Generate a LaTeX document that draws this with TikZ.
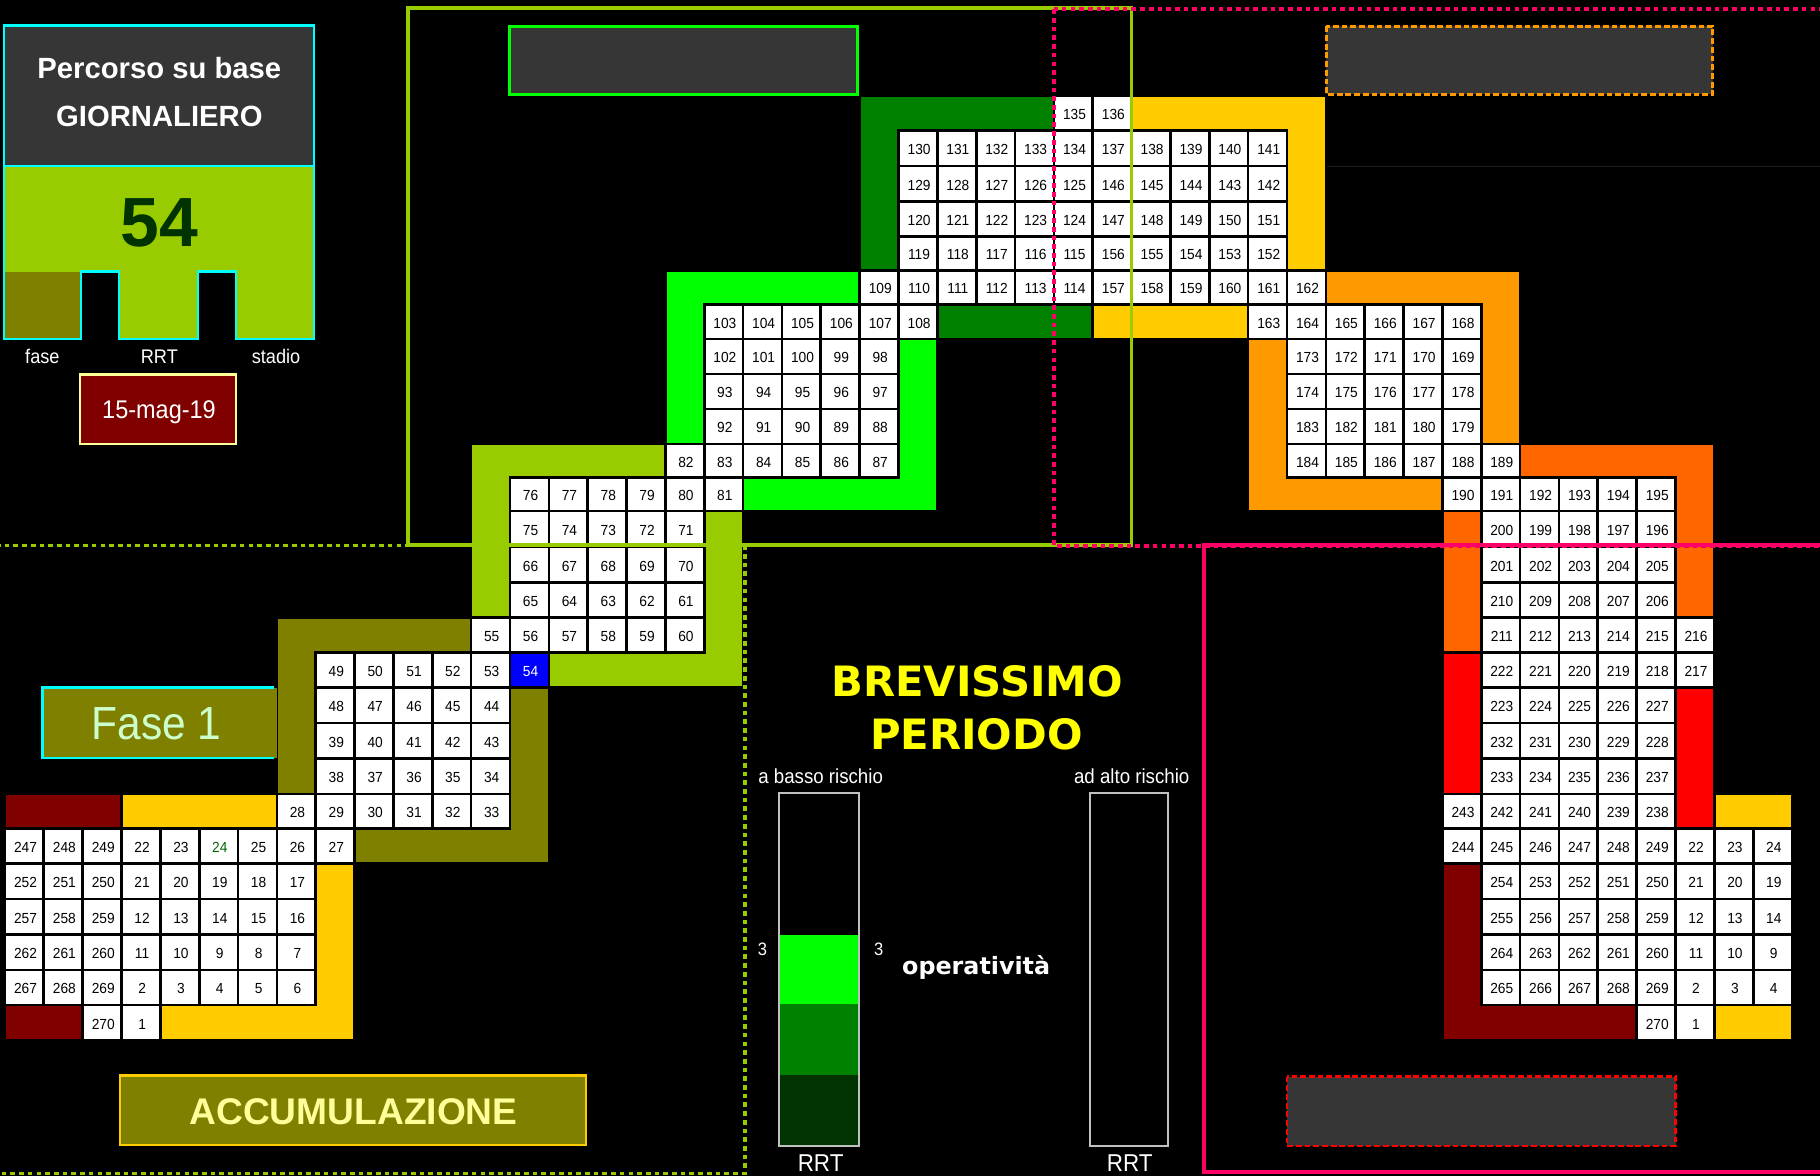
\documentclass[tikz,border=0pt]{standalone}
\usepackage{fontspec}
\setmainfont{Liberation Sans}
\newfontfamily\arial{Liberation Sans}
\newfontfamily\dejavu{DejaVu Sans}
\newfontfamily\cellfont[FakeStretch=0.94]{Liberation Sans}
\newfontfamily\regfont[FakeStretch=0.92]{Liberation Sans}
\newfontfamily\fasefont[FakeStretch=0.915]{Liberation Sans}
\definecolor{ygreen}{HTML}{99CC00}
\definecolor{olivec}{HTML}{808000}
\definecolor{lgreen}{HTML}{00FF00}
\definecolor{dgreen}{HTML}{008000}
\definecolor{vdgreen}{HTML}{003300}
\definecolor{yellowc}{HTML}{FFCC00}
\definecolor{orangec}{HTML}{FF9900}
\definecolor{orred}{HTML}{FF6600}
\definecolor{redc}{HTML}{FF0000}
\definecolor{dred}{HTML}{800000}
\definecolor{pinkc}{HTML}{FF0066}
\definecolor{cyanc}{HTML}{00FFFF}
\definecolor{pyellow}{HTML}{FFFF99}
\definecolor{byellow}{HTML}{FFFF00}
\definecolor{fasetxt}{HTML}{CCFFCC}
\definecolor{boxgray}{HTML}{363636}
\definecolor{bargray}{HTML}{C0C0C0}
\definecolor{gtext}{HTML}{006600}
\definecolor{faint}{HTML}{1C1C1C}
\def\rowB{{82.3,112.6,143.1,173.45,203.6,233.05,262.15,291.95,322.15,352.4,382.4,411.45,440.4,471.1,502,532,562,592.5,623,653.5,684,714,744,774.5,805,835.5,866,896.1}}
\newcommand\band[5]{%
  \pgfmathsetmacro\xa{21+33.47*(#2)-15.6}%
  \pgfmathsetmacro\xb{21+33.47*(#3)+15.6}%
  \pgfmathsetmacro\ya{\rowB[#4]+1.1}%
  \pgfmathsetmacro\yb{\rowB[#5+1]-1.1}%
  \fill[#1] (\xa,\ya) rectangle (\xb,\yb);}
\newcommand\cellx[5]{%
  \pgfmathsetmacro\xa{21+33.47*(#3)-15.6}%
  \pgfmathsetmacro\xb{\xa+31.2}%
  \pgfmathsetmacro\ya{\rowB[#4]+1.1}%
  \pgfmathsetmacro\yb{\rowB[#4+1]-1.1}%
  \pgfmathtruncatemacro\ci{#3}%
  \fill[#1] (\xa,\ya) rectangle (\xb,\yb);
  \node[celltxt,text=#2] (cell-\ci-#4) at ({(\xa+\xb)/2+1},{(\ya+\yb)/2+1.2}) {#5};}
\newcommand\cellrow[3]{%
  \foreach \t [count=\k from 0] in {#3} {\cellx{white}{black}{#2+\k}{#1}{\t}}}
\begin{document}
\begin{tikzpicture}[x=1pt,y=-1pt,
  celltxt/.style={inner sep=0pt,anchor=center,font=\cellfont\fontsize{12.6}{13}\selectfont},
  lbl/.style={inner sep=0pt,anchor=base},
  graybox/.style={fill=boxgray,line width=2.4pt}]
\useasboundingbox (0,0) rectangle (1568,1013);
\clip (0,0) rectangle (1568,1013);
\fill[black] (0,0) rectangle (1568,1013);

% ---------- bands ----------
\band{olivec}{7}{11}{15}{15}
\band{olivec}{7}{7}{15}{19}
\band{olivec}{13}{13}{17}{21}
\band{olivec}{9}{13}{21}{21}
\band{ygreen}{12}{16}{10}{10}
\band{ygreen}{12}{12}{10}{14}
\band{ygreen}{18}{18}{12}{16}
\band{ygreen}{14}{18}{16}{16}
\band{lgreen}{17}{21}{5}{5}
\band{lgreen}{17}{17}{5}{9}
\band{lgreen}{23}{23}{7}{11}
\band{lgreen}{19}{23}{11}{11}
\band{dgreen}{22}{26}{0}{0}
\band{dgreen}{22}{22}{0}{4}
\band{dgreen}{24}{27}{6}{6}
\band{yellowc}{29}{33}{0}{0}
\band{yellowc}{33}{33}{0}{4}
\band{yellowc}{28}{31}{6}{6}
\band{orangec}{34}{38}{5}{5}
\band{orangec}{38}{38}{5}{9}
\band{orangec}{32}{32}{7}{11}
\band{orangec}{32}{36}{11}{11}
\band{orred}{39}{43}{10}{10}
\band{orred}{43}{43}{10}{14}
\band{orred}{37}{37}{12}{15}
\band{redc}{37}{37}{16}{19}
\band{redc}{43}{43}{17}{20}
\band{yellowc}{44}{45}{20}{20}
\band{yellowc}{44}{45}{26}{26}
\band{dred}{37}{37}{22}{26}
\band{dred}{37}{41}{26}{26}
\band{dred}{0}{2}{20}{20}
\band{dred}{0}{1}{26}{26}
\band{yellowc}{3}{6}{20}{20}
\band{yellowc}{8}{8}{22}{26}
\band{yellowc}{4}{8}{26}{26}

% ---------- cells ----------
\cellrow{0}{27}{135,136}
\cellrow{1}{23}{130,131,132,133,134,137,138,139,140,141}
\cellrow{2}{23}{129,128,127,126,125,146,145,144,143,142}
\cellrow{3}{23}{120,121,122,123,124,147,148,149,150,151}
\cellrow{4}{23}{119,118,117,116,115,156,155,154,153,152}
\cellrow{5}{22}{109,110,111,112,113,114,157,158,159,160,161,162}
\cellrow{6}{18}{103,104,105,106,107,108}
\cellrow{6}{32}{163,164,165,166,167,168}
\cellrow{7}{18}{102,101,100,99,98}
\cellrow{7}{33}{173,172,171,170,169}
\cellrow{8}{18}{93,94,95,96,97}
\cellrow{8}{33}{174,175,176,177,178}
\cellrow{9}{18}{92,91,90,89,88}
\cellrow{9}{33}{183,182,181,180,179}
\cellrow{10}{17}{82,83,84,85,86,87}
\cellrow{10}{33}{184,185,186,187,188,189}
\cellrow{11}{13}{76,77,78,79,80,81}
\cellrow{11}{37}{190,191,192,193,194,195}
\cellrow{12}{13}{75,74,73,72,71}
\cellrow{12}{38}{200,199,198,197,196}
\cellrow{13}{13}{66,67,68,69,70}
\cellrow{13}{38}{201,202,203,204,205}
\cellrow{14}{13}{65,64,63,62,61}
\cellrow{14}{38}{210,209,208,207,206}
\cellrow{15}{12}{55,56,57,58,59,60}
\cellrow{15}{38}{211,212,213,214,215,216}
\cellrow{16}{8}{49,50,51,52,53}
\cellx{blue}{white}{13}{16}{54}
\cellrow{16}{38}{222,221,220,219,218,217}
\cellrow{17}{8}{48,47,46,45,44}
\cellrow{17}{38}{223,224,225,226,227}
\cellrow{18}{8}{39,40,41,42,43}
\cellrow{18}{38}{232,231,230,229,228}
\cellrow{19}{8}{38,37,36,35,34}
\cellrow{19}{38}{233,234,235,236,237}
\cellrow{20}{7}{28,29,30,31,32,33}
\cellrow{20}{37}{243,242,241,240,239,238}
\cellrow{21}{0}{247,248,249,22,23}
\cellx{white}{gtext}{5}{21}{24}
\cellrow{21}{6}{25,26,27}
\cellrow{21}{37}{244,245,246,247,248,249,22,23,24}
\cellrow{22}{0}{252,251,250,21,20,19,18,17}
\cellrow{22}{38}{254,253,252,251,250,21,20,19}
\cellrow{23}{0}{257,258,259,12,13,14,15,16}
\cellrow{23}{38}{255,256,257,258,259,12,13,14}
\cellrow{24}{0}{262,261,260,11,10,9,8,7}
\cellrow{24}{38}{264,263,262,261,260,11,10,9}
\cellrow{25}{0}{267,268,269,2,3,4,5,6}
\cellrow{25}{38}{265,266,267,268,269,2,3,4}
\cellrow{26}{2}{270,1}
\cellrow{26}{42}{270,1}

% ---------- top-left panel ----------
\fill[boxgray] (3.2,22) rectangle (270.8,142.9);
\draw[cyanc,line width=2pt] (3.2,22) rectangle (270.8,142.9);
\fill[ygreen] (3.2,142.9) -- (270.8,142.9) -- (270.8,292) -- (203.6,292) -- (203.6,234) -- (170.4,234) -- (170.4,292) -- (102.7,292) -- (102.7,234) -- (69.6,234) -- (69.6,292) -- (3.2,292) -- cycle;
\fill[olivec] (3.2,234) rectangle (69.6,292);
\draw[cyanc,line width=2pt] (3.2,142.9) -- (270.8,142.9) -- (270.8,292) -- (203.6,292) -- (203.6,234) -- (170.4,234) -- (170.4,292) -- (102.7,292) -- (102.7,234) -- (69.6,234) -- (69.6,292) -- (3.2,292) -- cycle;
\node[lbl,text=white,font=\arial\bfseries\fontsize{25.2}{28}\selectfont] (title1) at (137.3,67.2) {Percorso su base};
\node[lbl,text=white,font=\arial\bfseries\fontsize{25.2}{28}\selectfont] (title2) at (137.3,108.7) {GIORNALIERO};
\node[lbl,text=vdgreen,font=\arial\bfseries\fontsize{60}{60}\selectfont] (bignum) at (137.3,212.5) {54};
\node[lbl,text=white,font=\regfont\fontsize{17}{20}\selectfont] (lfase) at (36.5,313) {fase};
\node[lbl,text=white,font=\regfont\fontsize{17}{20}\selectfont] (lrrt) at (137.3,313) {RRT};
\node[lbl,text=white,font=\regfont\fontsize{17}{20}\selectfont] (lstadio) at (237.8,313) {stadio};
\fill[dred] (69,322.6) rectangle (203.6,382.8);
\draw[pyellow,line width=1.8pt] (69,322.6) rectangle (203.6,382.8);
\node[lbl,text=white,font=\regfont\fontsize{22}{24}\selectfont] (date) at (137,360.4) {15-mag-19};

% ---------- Fase 1 label ----------
\fill[olivec] (36.7,592.5) rectangle (239,653);
\draw[cyanc,line width=2.2pt] (236,592.5) -- (36.7,592.5) -- (36.7,653) -- (236,653);
\node[lbl,text=fasetxt,font=\fasefont\fontsize{40}{40}\selectfont] (fase1) at (135,637.5) {Fase 1};

% ---------- ACCUMULAZIONE ----------
\fill[olivec] (103.4,926.7) rectangle (504.9,986.5);
\draw[yellowc,line width=2.2pt] (103.4,926.7) rectangle (504.9,986.5);
\node[lbl,text=pyellow,font=\arial\bfseries\fontsize{32}{32}\selectfont] (accum) at (304.6,968.9) {ACCUMULAZIONE};

% ---------- centre texts and bars ----------
\node[lbl,text=byellow,font=\dejavu\bfseries\fontsize{36}{36}\selectfont] (brev) at (841.8,599.8) {BREVISSIMO};
\node[lbl,text=byellow,font=\dejavu\bfseries\fontsize{36}{36}\selectfont] (period) at (841.2,645.6) {PERIODO};
\node[lbl,text=white,font=\regfont\fontsize{17.5}{20}\selectfont] (basso) at (707,674.6) {a basso rischio};
\node[lbl,text=white,font=\regfont\fontsize{17.5}{20}\selectfont] (alto) at (975,674.6) {ad alto rischio};
\fill[lgreen] (672.2,805.1) rectangle (738.8,865);
\fill[dgreen] (672.2,865) rectangle (738.8,925.8);
\fill[vdgreen] (672.2,925.8) rectangle (738.8,986.3);
\draw[bargray,line width=2pt] (671.2,683) rectangle (739.8,987.3);
\draw[bargray,line width=2pt] (939,683) rectangle (1006.2,987.3);
\node[lbl,text=white,font=\regfont\fontsize{15.5}{16}\selectfont] (three1) at (656.8,822.8) {3};
\node[lbl,text=white,font=\regfont\fontsize{15.5}{16}\selectfont] (three2) at (757,822.8) {3};
\node[lbl,text=white,font=\dejavu\bfseries\fontsize{20.5}{22}\selectfont] (operat) at (841,839.7) {operatività};
\node[lbl,text=white,font=\regfont\fontsize{21}{22}\selectfont] (rrt1) at (707,1009.2) {RRT};
\node[lbl,text=white,font=\regfont\fontsize{21}{22}\selectfont] (rrt2) at (973.3,1009.2) {RRT};

% ---------- gray boxes ----------
\draw[graybox,draw=lgreen] (438.8,22.7) rectangle (739,81.3);
\draw[graybox,draw=orangec,line width=2.4pt,dash pattern=on 5pt off 2.5pt] (1142.7,22.7) rectangle (1475.7,81.3);
\draw[graybox,draw=redc,line width=2.2pt,dash pattern=on 5pt off 2.5pt] (1108.7,927.5) rectangle (1443.5,987.2);
\draw[faint,line width=1pt] (1143,143.4) -- (1568,143.4);

% ---------- frames ----------
\draw[ygreen,line width=3.2pt,dash pattern=on 4pt off 3.5pt] (-5,470) rectangle (641.8,1011);
\draw[ygreen,line width=3.4pt] (351.3,6.7) rectangle (974.8,469.8);
\draw[pinkc,line width=3.4pt,dash pattern=on 4pt off 3.5pt] (907.7,8) rectangle (1580,470);
\draw[pinkc,line width=3.4pt] (1037.3,469.8) rectangle (1580,1009.6);
\end{tikzpicture}
\end{document}
